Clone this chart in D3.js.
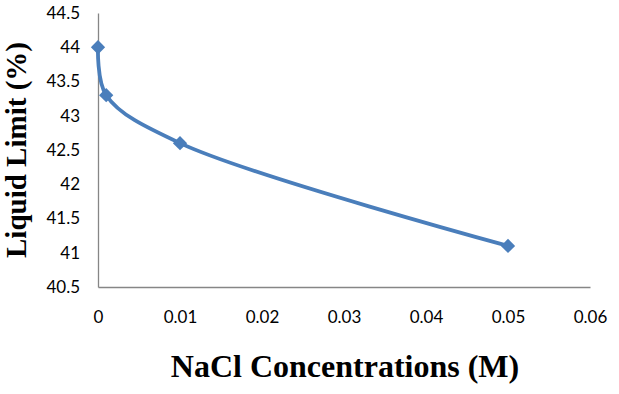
<!DOCTYPE html>
<html>
<head>
<meta charset="utf-8">
<script src="https://cdn.jsdelivr.net/npm/d3@7"></script>
<style>
  body { margin: 0; background: #fff; }
  svg { display: block; }
</style>
</head>
<body>
<div id="chart"></div>
<script>
// data
const concentrations = [0, 0.001, 0.01, 0.05];
const liquidLimit = [44, 43.3, 42.6, 41.1];
const xTicks = [0, 0.01, 0.02, 0.03, 0.04, 0.05, 0.06];
const yTicks = [40.5, 41, 41.5, 42, 42.5, 43, 43.5, 44, 44.5];

function drawChart() {
    const width = 619, height = 394;
    const margin = {top: 13, right: 29, bottom: 107, left: 98};
    const innerW = width - margin.left - margin.right,
        innerH = height - margin.top - margin.bottom;

    const svg = d3.select("#chart")
        .append("svg")
        .attr("width", width)
        .attr("height", height);

    const g = svg.append("g")
        .attr("transform", `translate(${margin.left},${margin.top})`);

    const x = d3.scaleLinear().domain([0, 0.06]).range([0, innerW]);
    const y = d3.scaleLinear().domain([40.5, 44.5]).range([innerH, 0]);

    // X axis
    const xAxis = g.append("g")
        .attr("transform", `translate(0, ${innerH})`)
        .call(d3.axisBottom(x).tickValues(xTicks).tickSize(0).tickPadding(24)
            .tickFormat(d => d3.format("")(+d.toFixed(2))));
    xAxis.select(".domain").attr("stroke", "#868686").attr("stroke-width", 1.3);
    xAxis.selectAll("text")
        .attr("font-family", "Lato, 'Open Sans', sans-serif")
        .attr("font-size", "17px")
        .attr("fill", "#000");

    // Y axis
    const yAxis = g.append("g")
        .call(d3.axisLeft(y).tickValues(yTicks).tickSize(0).tickPadding(18)
            .tickFormat(d => d3.format("")(d)));
    yAxis.select(".domain").attr("stroke", "#868686").attr("stroke-width", 1.3);
    yAxis.selectAll("text")
        .attr("font-family", "Lato, 'Open Sans', sans-serif")
        .attr("font-size", "17px")
        .attr("fill", "#000");

    const points = concentrations.map((c, i) => ({c: c, v: liquidLimit[i]}));

    // smoothed line
    const line = d3.line()
        .x(d => x(d.c))
        .y(d => y(d.v))
        .curve(d3.curveCatmullRom.alpha(0.5));

    g.append("path")
        .datum(points)
        .attr("fill", "none")
        .attr("stroke", "#4A7EBB")
        .attr("stroke-width", 3.8)
        .attr("d", line);

    // diamond markers
    g.selectAll(".marker")
        .data(points)
        .join("path")
        .attr("class", "marker")
        .attr("transform", d => `translate(${x(d.c)},${y(d.v)})`)
        .attr("d", d3.symbol().type(d3.symbolDiamond2).size(130))
        .attr("fill", "#4A7EBB");

    // axis titles
    svg.append("text")
        .attr("x", 345)
        .attr("y", 377)
        .attr("text-anchor", "middle")
        .attr("font-family", "'Liberation Serif', 'Times New Roman', serif")
        .attr("font-weight", "bold")
        .attr("font-size", "32px")
        .text("NaCl Concentrations (M)");

    svg.append("text")
        .attr("transform", "translate(26,150) rotate(-90)")
        .attr("text-anchor", "middle")
        .attr("font-family", "'Liberation Serif', 'Times New Roman', serif")
        .attr("font-weight", "bold")
        .attr("font-size", "29px")
        .text("Liquid Limit (%)");
}

drawChart();
</script>
</body>
</html>
